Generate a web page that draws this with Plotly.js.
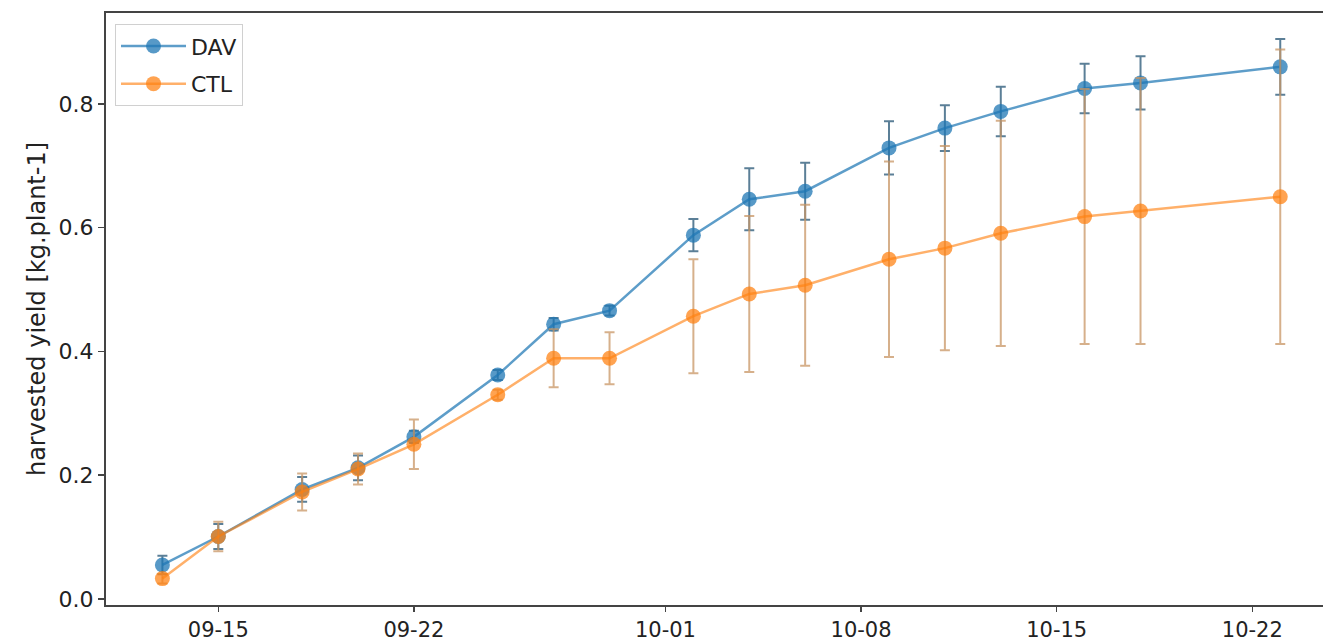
<!DOCTYPE html>
<html>
<head>
<meta charset="utf-8">
<script src="https://cdn.plot.ly/plotly-3.0.1.min.js"></script>
<style>html,body{margin:0;padding:0;background:#fff;overflow:hidden}#chart{width:1323px;height:643px}</style>
</head>
<body>
<div id="chart"></div>
<script>
// Harvest dates
const dates = ['2021-09-13','2021-09-15','2021-09-18','2021-09-20','2021-09-22','2021-09-25','2021-09-27','2021-09-29','2021-10-02','2021-10-04','2021-10-06','2021-10-09','2021-10-11','2021-10-13','2021-10-16','2021-10-18','2021-10-23'];
// DAV series (mean and error)
const davValues = [0.055,0.101,0.177,0.212,0.262,0.362,0.444,0.466,0.588,0.646,0.659,0.729,0.761,0.788,0.825,0.834,0.860];
const davErrors = [0.015,0.020,0.020,0.020,0.010,0.008,0.010,0.008,0.026,0.050,0.046,0.043,0.037,0.040,0.040,0.043,0.045];
// CTL series (mean and error)
const ctlValues = [0.033,0.101,0.173,0.210,0.250,0.330,0.389,0.389,0.457,0.493,0.507,0.549,0.567,0.591,0.618,0.627,0.650];
const ctlErrors = [0.008,0.024,0.030,0.025,0.040,0.008,0.047,0.042,0.092,0.126,0.130,0.158,0.165,0.182,0.206,0.215,0.238];
// Axis ticks
const xTickDates = ['2021-09-15','2021-09-22','2021-10-01','2021-10-08','2021-10-15','2021-10-22'];
const yTickVals = [0.0,0.2,0.4,0.6,0.8];

const traces = [
  {
    x: dates, y: davValues, name: 'DAV', legendgroup: 'dav', type: 'scatter', mode: 'lines+markers',
    line: {color: 'rgba(31,119,180,0.72)', width: 2.5},
    marker: {color: 'rgba(31,119,180,0.75)', size: 15},
    error_y: {type: 'data', array: davErrors, visible: true, color: 'rgba(50,95,125,0.8)', thickness: 2, width: 5}
  },
  {
    x: dates, y: ctlValues, name: 'CTL', legendgroup: 'ctl', type: 'scatter', mode: 'lines+markers',
    line: {color: 'rgba(255,127,14,0.62)', width: 2.5},
    marker: {color: 'rgba(255,127,14,0.72)', size: 15},
    error_y: {type: 'data', array: ctlErrors, visible: true, color: 'rgba(200,150,100,0.75)', thickness: 2, width: 5}
  }
];

const layout = {
  width: 1323, height: 643,
  margin: {l: 106, r: 0, t: 13, b: 38},
  paper_bgcolor: '#fff', plot_bgcolor: '#fff',
  font: {family: 'DejaVu Sans', size: 22, color: '#222'},
  showlegend: true,
  legend: {
    x: 0.0074, y: 0.981, xanchor: 'left', yanchor: 'top',
    bgcolor: 'rgba(255,255,255,0.85)', bordercolor: '#d0d0d0', borderwidth: 1,
    font: {family: 'DejaVu Sans', size: 22, color: '#222'},
    itemwidth: 65, tracegroupgap: 6
  },
  xaxis: {
    type: 'date',
    range: ['2021-09-10 23:34', '2021-10-24 12:43'],
    tickvals: xTickDates, tickformat: '%m-%d',
    showgrid: false, zeroline: false,
    showline: true, linecolor: '#444', linewidth: 2, mirror: true,
    ticks: 'outside', ticklen: 5, tickwidth: 1.5, tickcolor: '#444',
    tickfont: {family: 'DejaVu Sans', size: 21, color: '#222'}
  },
  yaxis: {
    range: [-0.0097, 0.947],
    tickvals: yTickVals, tickformat: '.1f',
    showgrid: false, zeroline: false,
    showline: true, linecolor: '#444', linewidth: 2,
    ticks: 'outside', ticklen: 6, tickwidth: 1.5, tickcolor: '#444',
    tickfont: {family: 'DejaVu Sans', size: 22, color: '#222'},
    title: {text: 'harvested yield [kg.plant-1]', font: {family: 'DejaVu Sans', size: 24, color: '#222'}, standoff: 6}
  }
};

Plotly.newPlot('chart', traces, layout, {displayModeBar: false, staticPlot: true});
</script>
</body>
</html>
